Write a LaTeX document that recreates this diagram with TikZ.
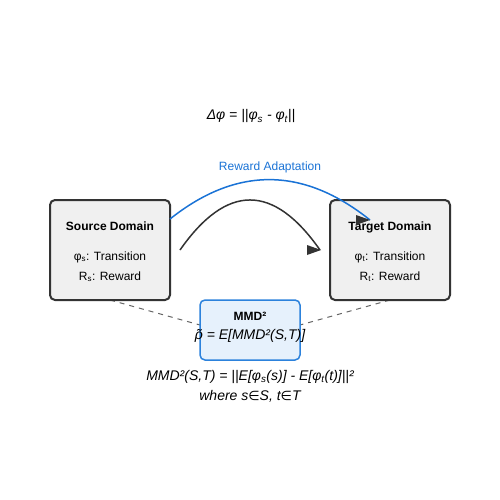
\documentclass[tikz,border=0pt]{standalone}
\usepackage{fontspec}
\setmainfont{Liberation Sans}
\newfontfamily\symfont{DejaVu Sans}
\newcommand{\isin}{{\symfont\fontsize{13}{16}\selectfont ∈}}
\definecolor{boxfill}{HTML}{F0F0F0}
\definecolor{boxline}{HTML}{333333}
\definecolor{mmdfill}{HTML}{E6F1FC}
\definecolor{mmdline}{HTML}{2C82DC}
\definecolor{adapt}{HTML}{1A73D6}
\definecolor{dashgray}{HTML}{666666}
\begin{document}
\begin{tikzpicture}[x=1pt,y=-1pt,
  domainbox/.style={draw=boxline,fill=boxfill,line width=2pt,rounded corners=5pt,minimum width=120pt,minimum height=100pt,inner sep=0pt},
  mmdbox/.style={draw=mmdline,fill=mmdfill,line width=1.5pt,rounded corners=5pt,minimum width=100pt,minimum height=60pt,inner sep=0pt},
  title/.style={anchor=base,font=\fontsize{12}{14}\selectfont\bfseries,inner sep=0pt},
  item/.style={anchor=base,font=\fontsize{12}{14}\selectfont,inner sep=0pt},
  formula/.style={anchor=base,font=\fontsize{14}{16}\selectfont\itshape,inner sep=0pt},
  link/.style={dashgray,line width=1pt,dash pattern=on 5pt off 5pt},
  curve/.style={line width=1.5pt},
  tipfill/.style={fill=boxline}
]
\useasboundingbox (0,0) rectangle (500,500);
\fill[white] (0,0) rectangle (500,500);

% dashed links
\coordinate (ls) at (110,300);
\coordinate (le) at (200,325);
\coordinate (rs) at (390,300);
\coordinate (re) at (300,325);
\draw[link] (ls) -- (le);
\draw[link] (rs) -- (re);

% boxes
\node[domainbox] (src) at (110,250) {};
\node[domainbox] (tgt) at (390,250) {};
\node[mmdbox] (mmd) at (250,330) {};

% texts
\node[formula] (delta) at (251,120) {Δφ = ||φ\textsubscript{s} - φ\textsubscript{t}||};
\node[item,text=adapt] (adlabel) at (270,170) {Reward Adaptation};

\node[title] (srct) at (110,230) {Source Domain};
\node[item] (srcp) at (110,260) {φ\textsubscript{s}: Transition};
\node[item] (srcr) at (110,280) {R\textsubscript{s}: Reward};

\node[title] (tgtt) at (390,230) {Target Domain};
\node[item] (tgtp) at (390,260) {φ\textsubscript{t}: Transition};
\node[item] (tgtr) at (390,280) {R\textsubscript{t}: Reward};

\node[title] (mmdt) at (250,320) {MMD²};
\node[formula] (mmdf) at (250,339) {{\accent"02DC ρ} = E[MMD²(S,T)]};

\node[formula] (def1) at (250,380) {MMD²(S,T) = ||E[φ\textsubscript{s}(s)] - E[φ\textsubscript{t}(t)]||²};
\node[formula] (def2) at (250,400) {where s\isin S, t\isin T};

% curves
\coordinate (bs) at (170,219);
\coordinate (be) at (370,220);
\coordinate (ks) at (180,250);
\coordinate (ke) at (320,250);
\draw[curve,adapt] (bs) .. controls (236.7,166) and (303.3,166.7) .. (be);
\draw[curve,boxline] (ks) .. controls (226.7,183.3) and (273.3,183.3) .. (ke);
\fill[tipfill] (be) -- ++(-14,-5) -- ++(0,10) -- cycle;
\fill[tipfill] ([xshift=1pt]ke) -- ++(-14,-5) -- ++(0,10) -- cycle;
\end{tikzpicture}
\end{document}
